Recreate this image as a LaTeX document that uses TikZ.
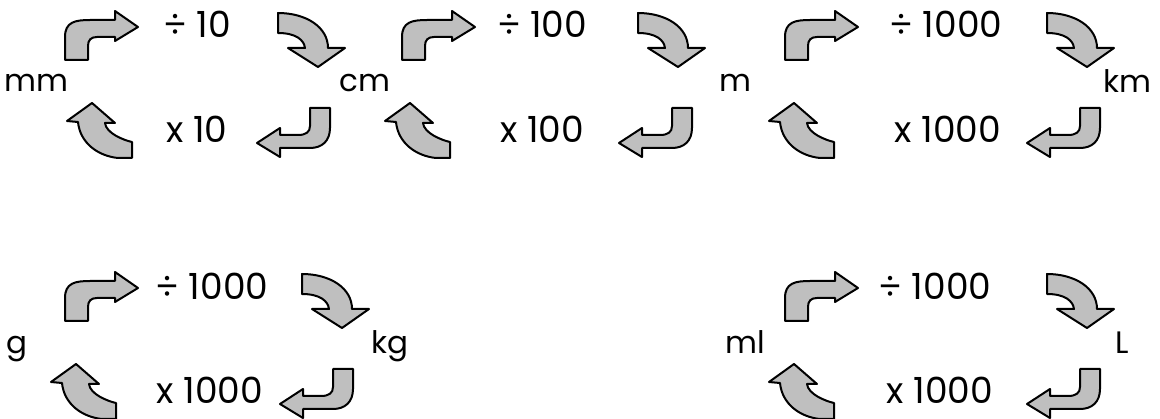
\documentclass[tikz,border=0pt]{standalone}
\usepackage{fontspec}
\setmainfont{Poppins}
\usepackage{tikz}
\usetikzlibrary{calc}

\tikzset{
  blk/.style={draw=black, fill=black!25, line join=round},
  pics/upturn/.style={code={
    \draw[blk] (0,0) -- (0,-23) .. controls (0,-38) and (10,-40) .. (25,-40)
      -- (50,-40) -- (50,-49) -- (73,-33) -- (50,-19) -- (50,-23) -- (32,-23)
      .. controls (26,-23) and (23,-20) .. (23,-14) -- (23,0) -- cycle;}},
  pics/downcurve/.style={code={
    \draw[blk] (0,0) .. controls (28,0) and (50,14) .. (50,35) -- (67,35)
      -- (40,54) -- (10,35) -- (27,35) .. controls (26,27) and (18,20) .. (0,20) -- cycle;}},
  pics/leftturn/.style={code={
    \draw[blk] (0,0) -- (20,0) -- (20,20) .. controls (20,33) and (12,40) .. (0,40)
      -- (-30,40) -- (-30,49) -- (-53,35) -- (-30,20) -- (-30,27) -- (-12,27)
      .. controls (-4,27) and (0,24) .. (0,18) -- cycle;}},
  pics/upcurve/.style={code={
    \draw[blk] (0,0) -- (14,0) -- (14,-16) .. controls (5,-18) and (-12,-25) .. (-13,-35)
      -- (-3,-35) -- (-26,-55) -- (-51,-37) -- (-40,-36)
      .. controls (-38,-15) and (-20,-2) .. (0,0) -- cycle;}}
}

\begin{document}
\begin{tikzpicture}[x=1pt, y=-1pt, line width=2pt,
    unit/.style={anchor=base, inner sep=0pt, font=\fontsize{31}{37}\selectfont},
    op/.style={anchor=base, inner sep=0pt, font=\fontsize{36}{42}\selectfont}]
  \useasboundingbox (0,0) rectangle (1160,419);
  % block arrows of each loop
  \foreach \ax/\bx/\cx/\dx/\yy [count=\i] in {65/278/310/118/0, 402/638/672/436/0,
      785/1047/1080/820/0, 65/302/333/102/261, 785/1047/1080/820/261}{
    \pic (upturn\i) at (\ax,60+\yy) {upturn};
    \pic (downcurve\i) at (\bx,13+\yy) {downcurve};
    \pic (leftturn\i) at (\cx,108+\yy) {leftturn};
    \pic (upcurve\i) at (\dx,158+\yy) {upcurve};
  }
  % length
  \node[unit] (mm) at (36,92) {mm};
  \node[op] (div10) at (197,38) {÷ 10};
  \node[unit] (cm) at (365,92) {cm};
  \node[op] (times10) at (197,143) {x 10};
  \node[op] (div100) at (542,38) {÷ 100};
  \node[unit] (m) at (735,92) {m};
  \node[op] (times100) at (542,143) {x 100};
  \node[op] (div1000) at (946,38) {÷ 1000};
  \node[unit] (km) at (1127,93) {km};
  \node[op] (times1000) at (948,143) {x 1000};
  % mass
  \node[unit] (g) at (17,354) {g};
  \node[op] (gdiv) at (212,300) {÷ 1000};
  \node[unit] (kg) at (390,354) {kg};
  \node[op] (gtimes) at (210,404) {x 1000};
  % volume
  \node[unit] (ml) at (745,354) {ml};
  \node[op] (mldiv) at (935,300) {÷ 1000};
  \node[unit] (L) at (1122,354) {L};
  \node[op] (mltimes) at (940,404) {x 1000};
\end{tikzpicture}
\end{document}
